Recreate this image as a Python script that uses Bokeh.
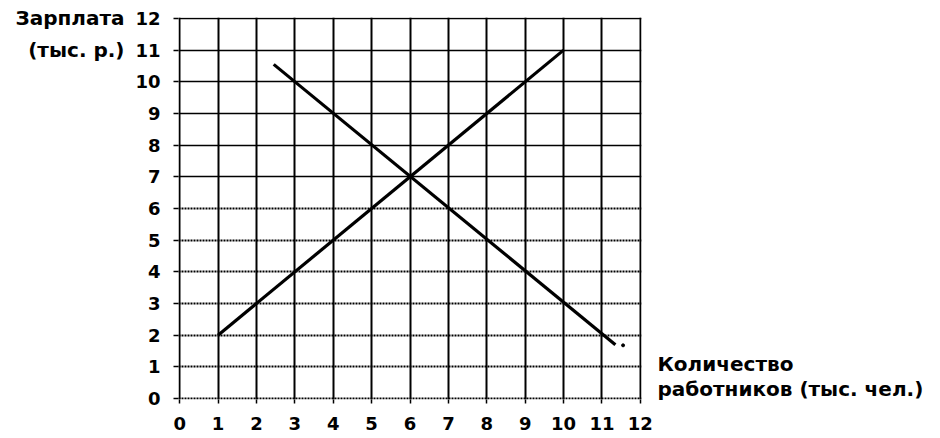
from bokeh.plotting import figure
from bokeh.models import Grid, FixedTicker, LinearAxis
from bokeh.embed import file_html
from bokeh.resources import INLINE

# ---- data ----
ticks = list(range(0, 13))
supply_x = [1, 10]
supply_y = [2, 11]
demand_x = [2.45, 11.35]
demand_y = [10.55, 1.7]
dot_x = [11.55]
dot_y = [1.68]
y_title_pos = [12, 11]
y_title_lines = ["Зарплата", "(тыс. р.)"]
x_title_pos = [1.1, 0.31]
x_title_lines = ["Количество", "работников (тыс. чел.)"]

FONT = "DejaVu Sans"

p = figure(width=940, height=438, output_backend="svg", toolbar_location=None,
           x_range=(-0.03, 12.03), y_range=(-0.03, 12.03),
           min_border_left=178, min_border_right=299, min_border_top=17, min_border_bottom=39)
p.outline_line_color = None
p.background_fill_color = "white"
p.border_fill_color = "white"
p.xgrid.visible = False
p.ygrid.visible = False

# grid lines
vgrid = Grid(dimension=0, ticker=FixedTicker(ticks=ticks), grid_line_color="black",
             grid_line_width=2)
hgrid_solid = Grid(dimension=1, ticker=FixedTicker(ticks=[t for t in ticks if t >= 7]),
                   grid_line_color="black", grid_line_width=1.6)
hgrid_dot = Grid(dimension=1, ticker=FixedTicker(ticks=[t for t in ticks if t < 7]),
                 grid_line_color="black", grid_line_width=1.8, grid_line_dash="2 1")
for g in (vgrid, hgrid_solid, hgrid_dot):
    p.add_layout(g)

for ax in (p.xaxis[0], p.yaxis[0]):
    ax.ticker = FixedTicker(ticks=ticks)
    ax.axis_line_color = None
    ax.major_tick_line_color = "black"
    ax.major_tick_line_width = 1.5
    ax.major_tick_in = 0
    ax.minor_tick_line_color = None
    ax.major_label_text_font = FONT
    ax.major_label_text_font_style = "bold"
    ax.major_label_text_font_size = "18px"
    ax.major_label_text_color = "black"

p.yaxis[0].major_tick_out = 5
p.yaxis[0].major_label_standoff = 13
p.xaxis[0].major_tick_out = 4
p.xaxis[0].major_label_standoff = 13


def title_axis(positions, lines, standoff):
    ax = LinearAxis(ticker=FixedTicker(ticks=positions),
                    major_label_overrides={k: v for k, v in zip(positions, lines)})
    ax.axis_line_color = None
    ax.major_tick_line_color = None
    ax.minor_tick_line_color = None
    ax.major_tick_out = 0
    ax.major_tick_in = 0
    ax.major_label_standoff = standoff
    ax.major_label_text_font = FONT
    ax.major_label_text_font_style = "bold"
    ax.major_label_text_font_size = "20px"
    ax.major_label_text_color = "black"
    return ax


# axis titles as extra label-only axes
p.add_layout(title_axis(y_title_pos, y_title_lines, 8), "left")
p.add_layout(title_axis(x_title_pos, x_title_lines, 16), "right")

# lines
p.line(supply_x, supply_y, line_color="black", line_width=3.2)
p.line(demand_x, demand_y, line_color="black", line_width=3.2)
p.scatter(dot_x, dot_y, size=3, color="black")

open("out.html", "w").write(file_html(p, INLINE))
